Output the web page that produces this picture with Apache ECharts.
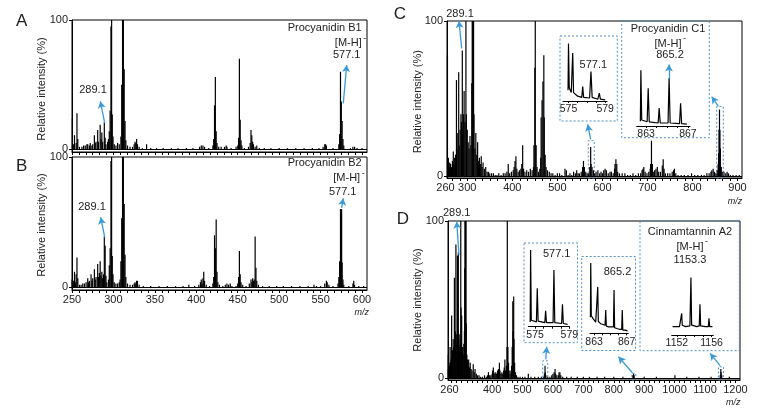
<!DOCTYPE html>
<html><head><meta charset="utf-8">
<script src="https://cdn.jsdelivr.net/npm/echarts@6/dist/echarts.min.js"></script>
<style>html,body{margin:0;padding:0;background:#fff}#c{width:761px;height:420px}</style>
</head><body><div id="c"></div>
<script>
// ---------- data (m/z, relative intensity %) ----------
const specA = [[250.5,24],[252,4],[253,11],[255,5],[256,28],[257,8],[259,2],[262,2],[264,3],[266,3],[268,4],[269,4],[271,3],[272,5],[274,3],[275,4],[277,11],[278,5],[279,6],[281,15],[282,6],[284,19],[285,8],[286,13],[287,6],[289,21],[290,9],[291,4],[293,6],[294,8],[295,14],[296,30],[297,95],[297.8,100],[298.6,27],[299.5,10],[301,4],[303,3],[305,5],[307,4],[309,10],[310,50],[311,100],[312,100],[313,62],[314,22],[315,7],[317,3],[320,2],[323,2],[325,4],[326,6],[327,5],[328,8],[329,4],[331,2],[335,1],[340,4],[345,1],[352,1],[360,1],[370,1],[378,1],[388,1],[396,1],[404,2],[406,3],[408,3],[410,2],[415,1],[420,3],[421,8],[422,34],[423,56],[424,14],[425,5],[427,2],[430,2],[434,2],[436,3],[437,2],[442,1],[448,2],[450,3],[451,9],[452,70],[453,23],[454,7],[455,3],[458,1],[463,2],[465,5],[466,15],[467,11],[468,6],[469,4],[471,2],[473,3],[476,1],[482,1],[490,1],[500,1],[510,1],[520,1],[530,1],[540,1],[548,1],[553,2],[555,4],[556,4],[557,3],[565,1],[572,4],[573,12],[574,60],[575,37],[576,22],[577,8],[578,3],[586,1],[589,2],[591,2],[594,1],[600,1]];
const specB = [[250,6],[251,3],[252,5],[253,12],[254,4],[255,10],[256,23],[257,7],[259,2],[261,2],[263,3],[265,3],[267,4],[269,7],[270,4],[271,5],[273,10],[274,5],[275,7],[277,14],[278,6],[279,8],[281,18],[282,8],[283,11],[284,20],[285,9],[286,12],[287,7],[288,10],[289,39],[290,32],[291,9],[292,4],[294,6],[295,17],[296,30],[297,97],[297.8,100],[298.6,24],[299.5,10],[301,4],[303,3],[305,3],[307,4],[308,6],[309,20],[310,53],[311,100],[312,100],[313,64],[314,25],[315,8],[317,3],[320,2],[323,2],[325,3],[326,4],[327,3],[328,5],[329,5],[331,2],[336,1],[345,1],[355,1],[365,1],[375,1],[384,1],[391,2],[398,1],[403,2],[405,4],[406,6],[407,3],[408,7],[409,12],[410,5],[412,2],[416,1],[420,3],[421,8],[422,40],[423,30],[424,52],[425,12],[426,4],[428,2],[432,1],[435,2],[437,3],[439,2],[441,3],[443,1],[448,1],[450,3],[451,8],[452,28],[453,10],[454,4],[456,2],[460,1],[464,3],[466,6],[467,4],[468,7],[469,5],[470,6],[471,39],[472,15],[473,5],[475,2],[480,1],[488,1],[497,1],[505,1],[515,1],[525,1],[535,1],[542,2],[545,1],[550,1],[555,3],[557,5],[558,4],[560,2],[565,1],[571,3],[572,8],[573,20],[574,60],[574.7,60],[575.4,60],[576,19],[577,6],[578,2],[584,1],[589,3],[590,5],[591,2],[596,1],[602,1]];
const specC = [[256,78],[257,8],[258,12],[260,6],[261,9],[263,8],[265,6],[267,10],[269,16],[270,8],[272,12],[274,14],[276,62],[277,18],[279,28],[281,67],[282,20],[284,30],[286,40],[287,35],[289,81],[290,30],[292,40],[293,55],[295,35],[297,100],[298,40],[300,30],[302,22],[304,18],[306,26],[308,20],[310,60],[311,100],[312,100],[313,100],[314,100],[315,40],[317,18],[319,28],[321,14],[323,22],[325,10],[327,12],[329,8],[331,13],[333,6],[335,9],[338,5],[341,6],[344,3],[347,3],[350,2],[354,2],[358,2],[362,1],[366,1],[370,2],[375,1],[380,2],[384,2],[388,3],[391,8],[394,2],[398,3],[402,4],[404,6],[406,10],[408,13],[410,5],[413,3],[416,4],[419,5],[421,8],[423,20],[425,5],[428,3],[432,4],[436,3],[440,5],[444,4],[447,6],[448,20],[450,70],[451,100],[453,20],[455,6],[458,3],[461,5],[463,12],[464,38],[466,49],[468,61],[470,78],[471,38],[473,14],[475,6],[478,4],[482,3],[486,2],[490,2],[495,1],[500,2],[505,2],[510,1],[517,5],[520,4],[524,1],[528,2],[532,1],[536,3],[540,2],[543,4],[546,2],[549,2],[553,3],[556,6],[558,10],[560,6],[563,3],[566,2],[569,2],[572,6],[574,19],[575,8],[577,6],[580,4],[583,2],[586,3],[590,4],[594,2],[597,3],[600,2],[603,4],[606,5],[609,4],[613,2],[617,3],[620,3],[624,2],[627,5],[628,8],[630,11],[632,8],[634,3],[638,2],[644,2],[650,2],[656,1],[662,1],[668,2],[674,1],[680,2],[685,2],[688,4],[690,5],[692,6],[695,3],[699,2],[703,3],[706,5],[707,8],[709,23],[711,8],[713,3],[716,4],[719,5],[722,6],[725,3],[729,3],[733,7],[735,11],[737,5],[740,2],[745,2],[750,2],[755,3],[758,4],[760,5],[763,2],[768,1],[775,1],[782,1],[790,1],[798,2],[805,1],[812,1],[820,1],[826,1],[832,2],[837,2],[841,3],[843,4],[846,5],[849,3],[852,2],[855,4],[857,8],[858,15],[859,30],[860,43],[861,30],[862,18],[864,6],[866,3],[870,3],[874,2],[877,3],[880,2],[884,1],[890,1],[897,1],[904,1]];
const specD = [[255,15],[256,6],[258,10],[260,8],[262,20],[263,10],[265,12],[267,40],[268,14],[270,18],[272,25],[274,20],[276,64],[277,22],[279,30],[281,85],[282,28],[284,22],[286,78],[287,30],[289,80],[290,25],[292,20],[294,28],[295,22],[297,100],[298,45],[300,40],[301,18],[303,20],[305,15],[307,22],[309,30],[310,70],[311,100],[312,100],[313,100],[314,100],[315,35],[317,15],[319,12],[321,8],[323,12],[326,7],[328,10],[331,6],[334,5],[338,9],[341,4],[344,6],[348,3],[352,2],[357,2],[362,1],[368,1],[375,2],[381,1],[385,2],[388,4],[392,2],[396,2],[400,3],[402,5],[404,7],[406,4],[409,3],[412,4],[415,3],[418,5],[421,6],[424,10],[426,5],[429,3],[432,4],[435,3],[438,5],[440,7],[442,12],[444,5],[447,8],[449,20],[450,100],[452,20],[454,10],[456,5],[459,3],[462,5],[464,8],[466,20],[468,49],[469,30],[470,30],[471,52],[472,25],[474,10],[477,4],[480,2],[485,1],[492,1],[500,1],[508,1],[519,3],[528,1],[540,1],[552,1],[562,1],[570,1],[572,3],[574,8],[575,4],[577,2],[583,1],[590,1],[596,2],[600,3],[604,4],[607,6],[609,3],[613,2],[618,2],[620,4],[623,4],[626,2],[632,1],[645,1],[660,1],[680,1],[700,1],[720,1],[745,1],[770,1],[800,1],[830,1],[863,2],[865,3],[867,2],[900,1],[940,1],[1001,2],[1040,1],[1080,1],[1120,1],[1150,2],[1152,6],[1153,4],[1155,2],[1180,1]];

// inset profiles (m/z, relative intensity within inset)
const insetC577 = [[574.95,18],[575.0,96],[575.08,22],[575.3,14],[575.46,80],[575.55,14],[576.0,8],[576.45,6],[576.55,24],[576.65,6],[577.3,5],[577.45,49],[577.58,6],[578.2,3],[578.36,13],[578.48,3],[579.0,2]];
const insetC865 = [[862.45,8],[862.5,93],[862.58,10],[863.1,7],[863.2,63],[863.3,7],[864.15,5],[864.25,30],[864.35,5],[865.1,5],[865.2,80],[865.3,5],[866.2,4],[866.3,38],[866.4,4],[866.9,3]];
const insetD577 = [[574.42,6],[574.47,96],[574.55,8],[575.15,6],[575.25,48],[575.35,7],[576.13,5],[576.23,20],[576.33,5],[577.1,5],[577.2,71],[577.3,5],[578.1,4],[578.2,28],[578.3,4],[578.8,3]];
const insetD865 = [[862.55,20],[862.59,88],[862.66,22],[862.9,18],[863.05,16],[863.2,14],[863.38,14],[863.45,58],[863.52,15],[863.8,12],[864.1,11],[864.35,10],[864.43,29],[864.5,9],[864.8,8],[865.1,8],[865.38,8],[865.45,54],[865.52,7],[865.8,6],[866.1,5],[866.39,5],[866.46,29],[866.53,4],[866.8,4],[867.1,3]];
const insetD1153 = [[1151.5,12],[1152.3,12],[1152.48,14],[1152.55,31],[1152.62,14],[1153.0,12],[1153.5,13],[1153.62,82],[1153.7,14],[1154.3,12],[1154.58,13],[1154.66,44],[1154.74,13],[1155.3,12],[1155.63,12],[1155.7,24],[1155.78,12],[1156.1,12]];

// tick labels
const labelsAB = [250,300,350,400,450,500,550,600];
const labelsC = [300,400,500,600,700,800,900];
const labelC260 = '260';
const labelsD = [260,400,500,600,700,800,900,1000,1100,1200];
const labelsY = [0,100];
const labelsC577 = [575,579], ticksC577 = [575,576,577,578,579];
const labelsC865 = [863,867], ticksC865 = [863,864,865,866,867];
const labelsD1153 = [1152,1156], ticksD1153 = [1152,1153,1154,1155,1156];

// annotation arrows / highlight boxes (data coordinates)
const arrowsA = [[[289.5,20.4],[284.2,37.2]],[[577.4,35.6],[581.5,65.2]]];
const arrowsB = [[[289.5,38.4],[284.6,53.8]],[[575.4,61],[577.4,68.3]]];
const arrowsC = [[[287.6,82.4],[281.6,100]],[[574.0,23.9],[567.4,33.5]],[[857.3,45.3],[842.7,51.3]],[[747.9,63],[747.9,72]]];
const arrowsD = [[[291.2,78.4],[283.6,99.6]],[[576.4,12.1],[579.7,20.1]],[[861.3,3.6],[815.2,13.8]],[[1149.7,8.1],[1116.8,15.9]]];
const boxesC = [[[568.7,-1],[582,23]],[[853.8,-1],[868.5,45]]];
const boxesD = [[[566.5,-1],[583,11.2]],[[859.3,-1],[872.4,3.2]],[[1144,-1],[1160.6,7.4]]];

// ---------- chart ----------
const FF = '"Liberation Sans", Arial, sans-serif';
const ARROW = '#3a9bd8', DASH = '#4f8fc8';
function stepTicks(a, b, s){ const r=[]; for(let v=a; v<=b+1e-6; v+=s) r.push(+v.toFixed(3)); return r; }
const ticksAB = stepTicks(250, 606, 50/6);
const ticksC = stepTicks(300-2*100/6, 910, 100/6);
const ticksD = stepTicks(400-100/6*8, 1215, 100/6).filter(v=>v>=255);
const fmt = v => String(v);

function mainX(gi,min,max,labels,ticks,show){
  return {type:'value',gridIndex:gi,min,max,
    axisLine:{show:true,onZero:false,lineStyle:{color:'#000',width:1}},
    axisTick:{show:true,customValues:ticks,length:3,lineStyle:{color:'#000',width:1}},
    axisLabel:{show:show,customValues:labels,formatter:fmt,hideOverlap:false,showMinLabel:true,showMaxLabel:true,
      color:'#222',fontSize:11,margin:4,fontFamily:FF},
    splitLine:{show:false}};
}
function mainY(gi,min){
  return {type:'value',gridIndex:gi,min,max:100,
    axisLine:{show:true,onZero:false,lineStyle:{color:'#000',width:1}},
    axisTick:{show:true,customValues:labelsY,length:3,lineStyle:{color:'#000'}},
    axisLabel:{show:true,customValues:labelsY,formatter:fmt,color:'#222',fontSize:11,margin:4,fontFamily:FF},
    splitLine:{show:false}};
}
function insetX(gi,min,max,labels,ticks){
  return {type:'value',gridIndex:gi,min,max,
    axisLine:{show:true,onZero:false,lineStyle:{color:'#000',width:1}},
    axisTick:{show:true,customValues:ticks,length:2,lineStyle:{color:'#000'}},
    axisLabel:{show:true,customValues:labels,formatter:fmt,hideOverlap:false,color:'#222',fontSize:10.5,margin:3,fontFamily:FF},
    splitLine:{show:false}};
}
function insetY(gi){ return {type:'value',gridIndex:gi,min:0,max:100,show:false}; }

function spectrum(i,data,boxes){
  const s = {type:'bar',xAxisIndex:i,yAxisIndex:i,data,barWidth:1.2,itemStyle:{color:'#000'},
    emphasis:{disabled:true},silent:true,clip:true,
    markLine:{silent:true,symbol:'none',label:{show:false},lineStyle:{color:'#000',width:1,type:'solid'},data:[{yAxis:0}]}};
  if(boxes) s.markArea = {silent:true,itemStyle:{color:'rgba(0,0,0,0)',borderColor:DASH,borderWidth:1,borderType:[2,2]},
    data:boxes.map(b=>[{coord:b[0]},{coord:b[1]}])};
  return s;
}
function arrows(i,list){
  return {type:'line',xAxisIndex:i,yAxisIndex:i,data:[],silent:true,
    markLine:{silent:true,symbol:['none','arrow'],symbolSize:[6,7],label:{show:false},
      lineStyle:{color:ARROW,width:1.3,type:'solid'},
      data:list.map(a=>[{coord:a[0]},{coord:a[1]}])}};
}
function profile(i,data){
  return {type:'line',xAxisIndex:i,yAxisIndex:i,data,showSymbol:false,silent:true,
    lineStyle:{color:'#000',width:1.2},emphasis:{disabled:true}};
}

function txt(x,y,t,opt){
  opt = opt||{};
  return {type:'text',x,y,rotation:opt.rot||0,silent:true,style:{text:t,fill:'#222',
    font:(opt.style||'normal')+' '+(opt.size||11)+'px '+FF,textAlign:opt.align||'center',textVerticalAlign:'middle'}};
}
function mh(x,y){ return [txt(x,y,'[M-H]'),txt(x+15,y-5,'-',{size:9,align:'left'})]; }
function dbox(x,y,w,h){ return {type:'rect',silent:true,shape:{x,y,width:w,height:h},style:{fill:'none',stroke:DASH,lineWidth:1,lineDash:[2,2]}}; }

const grids = [
  {left:72,top:20,width:295,height:132},
  {left:72,top:157,width:295,height:133},
  {left:447,top:21,width:295,height:157},
  {left:448,top:221,width:292,height:159},
  {left:563,top:41,width:44,height:60},
  {left:636.7,top:66,width:53.3,height:60},
  {left:528.3,top:246.7,width:41,height:80},
  {left:590,top:253.3,width:38.3,height:80},
  {left:671.7,top:265,width:41.6,height:70}
].map((g,i)=>Object.assign(g,{containLabel:false,show:i<4,borderColor:'#000',borderWidth:1}));

const option = {
  animation:false,
  backgroundColor:'#fff',
  grid:grids,
  xAxis:[
    mainX(0,250,606,labelsAB,ticksAB,false),
    mainX(1,250,606,labelsAB,ticksAB,true),
    mainX(2,255,910,labelsC,ticksC,true),
    mainX(3,255,1215,labelsD,ticksD,true),
    insetX(4,574.4,579.2,labelsC577,ticksC577),
    insetX(5,862.1,867.2,labelsC865,ticksC865),
    insetX(6,574.2,579.0,labelsC577,ticksC577),
    insetX(7,862.5,867.2,labelsC865,ticksC865),
    insetX(8,1151.4,1156.2,labelsD1153,ticksD1153)
  ],
  yAxis:[mainY(0,-2),mainY(1,-2),mainY(2,-1),mainY(3,-1),insetY(4),insetY(5),insetY(6),insetY(7),insetY(8)],
  series:[
    spectrum(0,specA),arrows(0,arrowsA),
    spectrum(1,specB),arrows(1,arrowsB),
    spectrum(2,specC,boxesC),arrows(2,arrowsC),
    spectrum(3,specD,boxesD),arrows(3,arrowsD),
    profile(4,insetC577),profile(5,insetC865),profile(6,insetD577),profile(7,insetD865),profile(8,insetD1153)
  ],
  graphic:[
    dbox(560,36,57.3,85), dbox(621.7,20.7,87.6,117),
    dbox(524,243,53.5,99.7), dbox(581.7,256.5,53.8,94), dbox(640,220.7,99.3,130),
    txt(21.7,21,'A',{size:17}), txt(21.7,166,'B',{size:17}), txt(400,14,'C',{size:17}), txt(403,219,'D',{size:17}),
    txt(445.5,188,labelC260),
    txt(41.7,89,'Relative intensity (%)',{rot:Math.PI/2}),
    txt(41.7,225,'Relative intensity (%)',{rot:Math.PI/2}),
    txt(418.3,101.7,'Relative intensity (%)',{rot:Math.PI/2}),
    txt(418.3,300,'Relative intensity (%)',{rot:Math.PI/2}),
    txt(361.7,28.3,'Procyanidin B1',{align:'right'}), ...mh(348.3,43.3), txt(346.7,55,'577.1'), txt(93,89.7,'289.1'),
    txt(361.7,163.3,'Procyanidin B2',{align:'right'}), ...mh(346.7,178.3), txt(342.7,191.7,'577.1'), txt(92,207.3,'289.1'),
    txt(460,14,'289.1'), txt(593.3,65,'577.1'),
    txt(668,29.3,'Procyanidin C1'), ...mh(668,44), txt(670,55,'865.2'),
    txt(456.7,213.3,'289.1'), txt(556.7,254,'577.1'), txt(617.5,272,'865.2'),
    txt(690,231.7,'Cinnamtannin A2'), ...mh(690,246.7), txt(690,260,'1153.3'),
    txt(361.7,312,'m/z',{style:'italic',size:9}),
    txt(735,201,'m/z',{style:'italic',size:9}),
    txt(733.3,402.3,'m/z',{style:'italic',size:9})
  ]
};
const chart = echarts.init(document.getElementById('c'),null,{renderer:'canvas'});
chart.setOption(option);
</script></body></html>
